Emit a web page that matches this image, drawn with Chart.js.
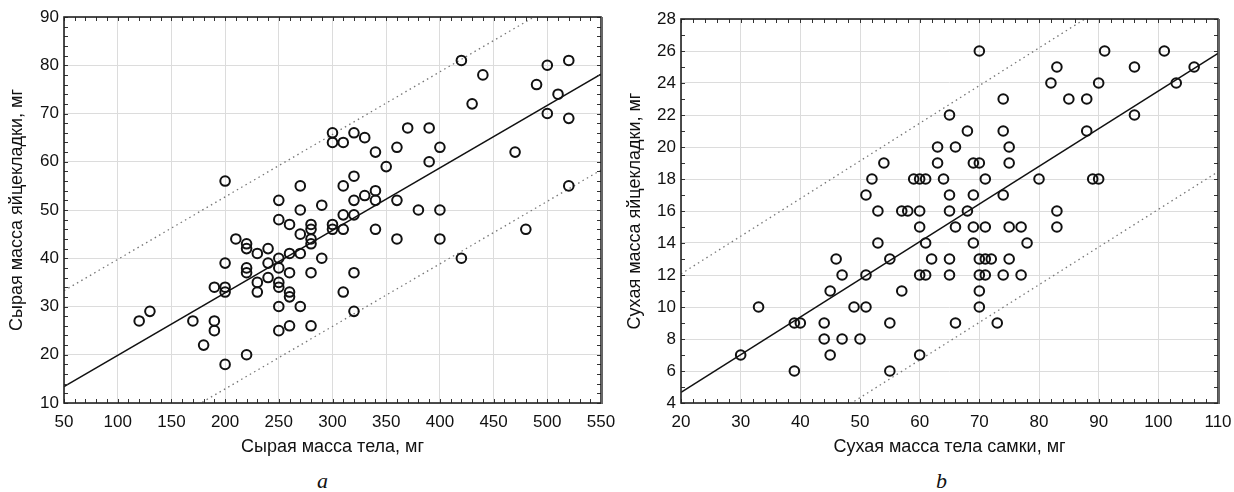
<!DOCTYPE html>
<html>
<head>
<meta charset="utf-8">
<script src="https://cdn.jsdelivr.net/npm/chart.js@4/dist/chart.umd.min.js"></script>
<style>
  body { margin: 0; background: #fff; width: 1234px; height: 492px; position: relative; overflow: hidden; }
  .box { position: absolute; top: 0; width: 617px; height: 460px; }
  .cap { position: absolute; top: 468px; font: italic 22px "Liberation Serif", serif; color: #111; }
</style>
</head>
<body>
<div class="box" style="left:0"><canvas id="chartA"></canvas></div>
<div class="box" style="left:617px"><canvas id="chartB"></canvas></div>
<div class="cap" style="left:317px">a</div>
<div class="cap" style="left:936px">b</div>
<script>
// (a) wet masses
const wetBody = [120,130,170,180,190,190,190,200,200,200,200,200,
  210,220,220,220,220,220, 230,230,230, 240,240,240,
  250,250,250,250,250,250,250,250, 260,260,260,260,260,260,
  270,270,270,270,270, 280,280,280,280,280,280, 290,290,
  300,300,300,300, 310,310,310,310,310, 320,320,320,320,320,320,
  330,330, 340,340,340,340, 350, 360,360,360, 370, 380, 390,390,
  400,400,400, 420,420, 430,440, 470,480, 490,500,500,510, 520,520,520];
const wetClutch = [27,29,27,22,27,25,34,34,33,39,18,56,
  44,43,42,38,37,20, 41,35,33, 42,39,36,
  52,48,40,38,35,34,30,25, 47,41,37,33,32,26,
  55,50,45,41,30, 47,46,44,43,37,26, 51,40,
  66,64,47,46, 64,55,49,46,33, 66,57,52,49,37,29,
  65,53, 62,54,52,46, 59, 63,52,44, 67, 50, 67,60,
  63,50,44, 81,40, 72,78, 62,46, 76,80,70,74, 81,69,55];
const wetFit = { intercept: 6.9, slope: 0.1296, band: 19.9 };

// (b) dry masses
const dryBody = [30,33,39,39,40,44,44,45,45,46,47,47,49,50,51,51,51,52,53,53,54,55,55,55,57,57,58,
  59,60,60,60,60,60,61,61,61,62,
  63,63,64,65,65,65,65,65,66,66,66,
  68,68,69,69,69,69,70,70,70,70,70,70,
  71,71,71,71,72,73,74,74,74,74,75,75,75,75,
  77,77,78,80,82,83,83,83,85,88,88,89,90,90,91,96,96,101,103,106];
const dryClutch = [7,10,9,6,9,9,8,7,11,13,12,8,10,8,17,12,10,18,16,14,19,13,9,6,16,11,16,
  18,18,16,15,12,7,18,14,12,13,
  20,19,18,22,17,16,13,12,20,15,9,
  21,16,19,17,15,14,26,19,13,12,11,10,
  18,15,13,12,13,9,23,21,17,12,20,19,15,13,
  15,12,14,18,24,25,16,15,23,23,21,18,24,18,26,25,22,26,24,25];
const dryFit = { intercept: -0.04, slope: 0.2354, band: 7.4 };

const FONT = "'Liberation Sans', Arial, sans-serif";

// frame + small inner ticks like the original Statistica plot
const framePlugin = {
  id: 'frame',
  afterDatasetsDraw(chart, args, opts) {
    const { ctx, chartArea: a, scales: { x, y } } = chart;
    ctx.save();
    ctx.strokeStyle = '#333';
    ctx.lineWidth = 1;
    ctx.beginPath();
    for (let v = x.min; v <= x.max + 1e-9; v += opts.xMinor) {
      const px = Math.round(x.getPixelForValue(v)) + 0.5;
      ctx.moveTo(px, a.bottom); ctx.lineTo(px, a.bottom - 4);
      ctx.moveTo(px, a.top); ctx.lineTo(px, a.top + 4);
    }
    for (let v = y.min; v <= y.max + 1e-9; v += opts.yMinor) {
      const py = Math.round(y.getPixelForValue(v)) + 0.5;
      ctx.moveTo(a.left, py); ctx.lineTo(a.left + 4, py);
      ctx.moveTo(a.right, py); ctx.lineTo(a.right - 4, py);
    }
    ctx.stroke();
    ctx.lineWidth = 1.6;
    ctx.strokeStyle = '#222';
    ctx.strokeRect(a.left, a.top, a.right - a.left, a.bottom - a.top);
    ctx.fillStyle = '#666';
    ctx.fillRect(a.right, a.top, 2, a.bottom - a.top + 1);
    ctx.restore();
  }
};

function fitLine(fit, xmin, xmax, shift) {
  return [xmin, xmax].map(v => ({ x: v, y: fit.intercept + fit.slope * v + shift }));
}

function makeChart(id, xs, ys, fit, ax, labels) {
  const pts = xs.map((v, i) => ({ x: v, y: ys[i] }));
  return new Chart(document.getElementById(id), {
    type: 'scatter',
    data: {
      datasets: [
        { data: pts, pointRadius: 4.8, pointHoverRadius: 4.8, borderWidth: 2,
          borderColor: '#111', backgroundColor: 'rgba(0,0,0,0)' },
        { type: 'line', data: fitLine(fit, ax.xmin, ax.xmax, 0), borderColor: '#111',
          borderWidth: 1.5, pointRadius: 0, fill: false },
        { type: 'line', data: fitLine(fit, ax.xmin, ax.xmax, fit.band), borderColor: '#777',
          borderWidth: 1.3, borderDash: [1.5, 3.5], pointRadius: 0, fill: false },
        { type: 'line', data: fitLine(fit, ax.xmin, ax.xmax, -fit.band), borderColor: '#777',
          borderWidth: 1.3, borderDash: [1.5, 3.5], pointRadius: 0, fill: false },
      ],
    },
    options: {
      responsive: true,
      maintainAspectRatio: false,
      animation: false,
      layout: { padding: { left: 0, top: ax.top, right: 16, bottom: 0 } },
      plugins: {
        legend: { display: false },
        tooltip: { enabled: false },
        frame: { xMinor: ax.xMinor, yMinor: ax.yMinor },
      },
      scales: {
        x: {
          type: 'linear', min: ax.xmin, max: ax.xmax,
          ticks: { stepSize: ax.xStep, padding: 9, color: '#111', font: { family: FONT, size: 17 } },
          grid: { color: '#dcdcdc', drawTicks: false },
          border: { display: false },
          title: { display: true, text: labels.x, color: '#111', padding: { top: 0, bottom: 2 },
                   font: { family: FONT, size: 18 } },
          afterFit: s => { s.height = 57; s.paddingLeft = 0; s.paddingRight = 0; },
        },
        y: {
          type: 'linear', min: ax.ymin, max: ax.ymax,
          ticks: { stepSize: ax.yStep, padding: 5, color: '#111', font: { family: FONT, size: 17 } },
          grid: { color: '#dcdcdc', drawTicks: false },
          border: { display: false },
          title: { display: true, text: labels.y, color: '#111', padding: { top: ax.titlePad, bottom: 0 },
                   font: { family: FONT, size: 18 } },
          afterFit: s => { s.width = 64; s.paddingTop = 0; s.paddingBottom = 0; },
        },
      },
    },
    plugins: [framePlugin],
  });
}

makeChart('chartA', wetBody, wetClutch, wetFit,
  { xmin: 50, xmax: 550, xStep: 50, xMinor: 10, ymin: 10, ymax: 90, yStep: 10, yMinor: 2, top: 17, titlePad: 6 },
  { x: 'Сырая масса тела, мг', y: 'Сырая масса яйцекладки, мг' });

makeChart('chartB', dryBody, dryClutch, dryFit,
  { xmin: 20, xmax: 110, xStep: 10, xMinor: 2, ymin: 4, ymax: 28, yStep: 2, yMinor: 1, top: 19, titlePad: 7 },
  { x: 'Сухая масса тела самки, мг', y: 'Сухая масса яйцекладки, мг' });
</script>
</body>
</html>
